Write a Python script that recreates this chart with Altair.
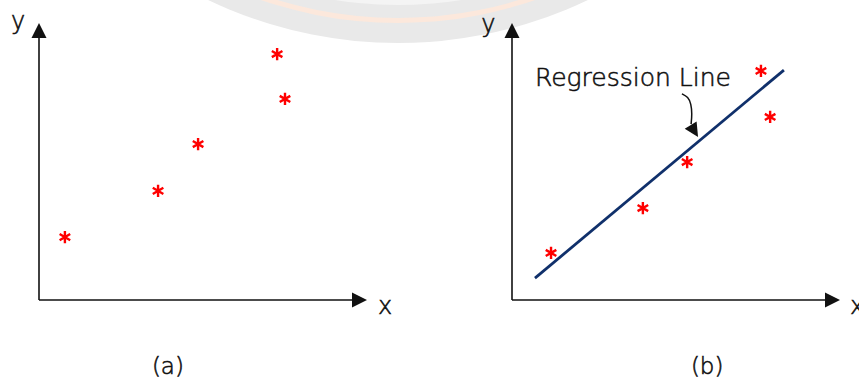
import altair as alt
import pandas as pd

# ---- values -------------------------------------------------------------
# panel (a): scattered observations
a_x = [0.79, 3.63, 4.85, 7.50, 7.26]
a_y = [2.27, 3.94, 5.63, 7.26, 8.88]

# panel (b): the same kind of observations with a fitted line
b_x = [1.19, 3.99, 5.34, 7.87, 7.59]
b_y = [1.70, 3.32, 4.98, 6.61, 8.27]

# end points of the regression line in panel (b)
fit_x = [0.70, 8.29]
fit_y = [0.79, 8.30]

# ---- geometry -----------------------------------------------------------
H = 382
A_W, B_W = 429, 430
PX_X, PX_Y = 32.8, 27.7          # pixels per data unit
ORIGIN_Y = 300                   # pixel row of the x axis
A_ORIGIN_X, B_ORIGIN_X = 39, 83  # pixel column of the y axis inside each panel
TIP = 10.0                       # arrow tips of both axes

FONT = "DejaVu Sans"
INK = "#111111"
RED = "#ff0000"
NAVY = "#10306b"

ASTERISK = "M0,-1L0,1M-0.866,-0.5L0.866,0.5M-0.866,0.5L0.866,-0.5"
HEAD_UP = "M0,-1L-1,1L1,1Z"
HEAD_RIGHT = "M1,0L-1,-1L-1,1Z"
HEAD_DOWN = "M0,1L-1,-1L1,-1Z"


def scales(origin_x, width):
    xs = alt.Scale(domain=[-origin_x / PX_X, (width - origin_x) / PX_X], nice=False, zero=False)
    ys = alt.Scale(domain=[-(H - ORIGIN_Y) / PX_Y, ORIGIN_Y / PX_Y], nice=False, zero=False)
    return xs, ys


def watermark(center_x):
    """Faint logo rings across the top of the figure."""
    rings = [(441, "#e9e9e9"), (421, "#fce8dc"), (416, "#e9e9e9"), (403, "#f4f4f4")]
    layers = []
    for r, c in rings:
        layers.append(
            alt.Chart(pd.DataFrame({"k": [0]}))
            .mark_arc(theta=0, theta2=6.2832, radius=r, color=c, clip=True)
            .encode(x=alt.value(center_x), y=alt.value(-398))
        )
    return layers


def axes(xs, ys):
    lines = pd.DataFrame({"x": [0, 0], "y": [0, 0], "x2": [9.6, 0], "y2": [0, 9.5]})
    rule = alt.Chart(lines).mark_rule(color=INK, strokeWidth=1.6).encode(
        x=alt.X("x:Q", scale=xs, axis=None),
        y=alt.Y("y:Q", scale=ys, axis=None),
        x2="x2:Q",
        y2="y2:Q",
    )
    up = alt.Chart(pd.DataFrame({"x": [0], "y": [TIP - 7.5 / PX_Y]})).mark_point(
        shape=HEAD_UP, size=225, filled=True, color=INK, opacity=1
    ).encode(x=alt.X("x:Q", scale=xs, axis=None), y=alt.Y("y:Q", scale=ys, axis=None))
    right = alt.Chart(pd.DataFrame({"x": [TIP - 7.5 / PX_X], "y": [0]})).mark_point(
        shape=HEAD_RIGHT, size=225, filled=True, color=INK, opacity=1
    ).encode(x=alt.X("x:Q", scale=xs, axis=None), y=alt.Y("y:Q", scale=ys, axis=None))
    return [rule, up, right]


def stars(xv, yv, xs, ys):
    return alt.Chart(pd.DataFrame({"x": xv, "y": yv})).mark_point(
        shape=ASTERISK, size=150, filled=False, stroke=RED, strokeWidth=2.4, opacity=1
    ).encode(x=alt.X("x:Q", scale=xs, axis=None), y=alt.Y("y:Q", scale=ys, axis=None))


def label(text, x, y, xs, ys, size=24, align="center", clip=False):
    # light face with a hairline outline, giving a thin but solid stroke
    return alt.Chart(pd.DataFrame({"t": [text], "x": [x], "y": [y]})).mark_text(
        font=FONT, fontSize=size, fontWeight=200, color=INK, align=align,
        baseline="alphabetic", clip=clip, stroke=INK, strokeWidth=0.55,
    ).encode(
        x=alt.X("x:Q", scale=xs, axis=None),
        y=alt.Y("y:Q", scale=ys, axis=None),
        text="t:N",
    )


# ---- panel (a) ----------------------------------------------------------
xa, ya = scales(A_ORIGIN_X, A_W)
panel_a = alt.layer(
    *watermark(398),
    *axes(xa, ya),
    stars(a_x, a_y, xa, ya),
    label("y", -0.64, 9.78, xa, ya),
    label("x", 10.55, -0.50, xa, ya),
    label("(a)", 3.93, -2.68, xa, ya, size=23),
).properties(width=A_W, height=H)

# ---- panel (b) ----------------------------------------------------------
xb, yb = scales(B_ORIGIN_X, B_W)

fit = alt.Chart(pd.DataFrame({"x": fit_x, "y": fit_y})).mark_line(
    color=NAVY, strokeWidth=2.8
).encode(x=alt.X("x:Q", scale=xb, axis=None), y=alt.Y("y:Q", scale=yb, axis=None))

# curved pointer from the caption down to the line
hook = pd.DataFrame({
    "x": [5.18, 5.37, 5.46, 5.49, 5.46],
    "y": [7.44, 7.33, 7.08, 6.71, 6.35],
    "o": [0, 1, 2, 3, 4],
})
pointer = alt.Chart(hook).mark_line(color=INK, strokeWidth=1.5, interpolate="basis").encode(
    x=alt.X("x:Q", scale=xb, axis=None),
    y=alt.Y("y:Q", scale=yb, axis=None),
    order="o:Q",
)
pointer_head = alt.Chart(pd.DataFrame({"x": [5.56], "y": [6.10]})).mark_point(
    shape=HEAD_DOWN, size=196, angle=328, filled=True, color=INK, opacity=1
).encode(x=alt.X("x:Q", scale=xb, axis=None), y=alt.Y("y:Q", scale=yb, axis=None))

panel_b = alt.layer(
    *watermark(398 - A_W),
    *axes(xb, yb),
    fit,
    stars(b_x, b_y, xb, yb),
    pointer,
    pointer_head,
    label("Regression Line", 0.70, 7.73, xb, yb, size=25, align="left"),
    label("y", -0.72, 9.68, xb, yb),
    label("x", 10.52, -0.50, xb, yb, clip=True),
    label("(b)", 5.95, -2.68, xb, yb, size=23),
).properties(width=B_W, height=H)

chart = (
    alt.hconcat(panel_a, panel_b, spacing=0)
    .properties(padding=0, background="white")
    .configure_view(stroke=None)
)

chart.save("out.html", embed_options={"renderer": "svg", "actions": False})
